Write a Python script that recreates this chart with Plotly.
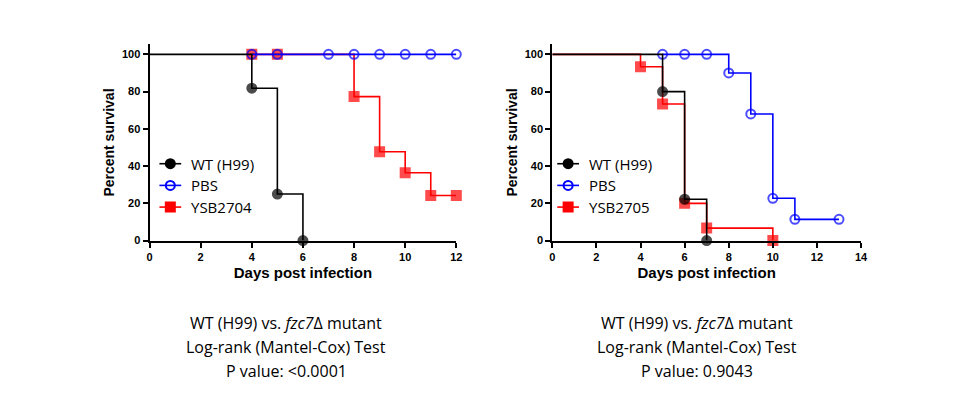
import plotly.graph_objects as go

# Left panel data
L_wt_x = [0, 4, 5, 6]; L_wt_y = [100, 81.8, 25, 0]
L_pbs_x = [4, 5, 7, 8, 9, 10, 11, 12]; L_pbs_y = [100]*8
L_ysb_x = [4, 5, 8, 9, 10, 11, 12]; L_ysb_y = [100, 100, 77.3, 47.7, 36.4, 24.2, 24.2]
# Right panel data
R_wt_x = [0, 5, 6, 7]; R_wt_y = [100, 80, 22.2, 0]
R_pbs_x = [5, 6, 7, 8, 9, 10, 11, 13]; R_pbs_y = [100, 100, 100, 90, 68, 22.7, 11.4, 11.4]
R_ysb_x = [0, 4, 5, 6, 7, 10]; R_ysb_y = [100, 93.3, 73.3, 20, 6.7, 0]

fig = go.Figure()

def add(x, y, color, sym, name, xa, ya, first_hidden):
    sizes = [9]*len(x)
    if first_hidden:
        sizes[0] = 0
    fig.add_trace(go.Scatter(x=x, y=y, mode="lines+markers", line_shape="hv", name=name,
                             line=dict(color=color, width=1.6),
                             marker=dict(symbol=sym, size=sizes, color=color,
                                         line=dict(color=color, width=2)),
                             xaxis=xa, yaxis=ya, showlegend=False, cliponaxis=False))

for (xa, ya, data, lab) in [("x", "y", [(L_ysb_x, L_ysb_y, False), (L_pbs_x, L_pbs_y, False), (L_wt_x, L_wt_y, True)], "YSB2704"),
                            ("x2", "y2", [(R_ysb_x, R_ysb_y, True), (R_pbs_x, R_pbs_y, False), (R_wt_x, R_wt_y, True)], "YSB2705")]:
    (rx, ry, rh), (px, py, ph), (wx, wy, wh) = data
    add(rx, ry, "#ff0000", "square", lab, xa, ya, rh)
    add(px, py, "#0000ff", "circle-open", "PBS", xa, ya, ph)
    add(wx, wy, "#000000", "circle", "WT (H99)", xa, ya, wh)

axfont = dict(family="Liberation Sans, Arial", size=11, color="black")
common_x = dict(showline=True, linecolor="black", linewidth=2, ticks="outside", ticklen=5,
                tickwidth=2, tickcolor="black", showgrid=False, zeroline=False,
                tickfont=axfont,
                title=dict(text="<b>Days post infection</b>", font=dict(family="Liberation Sans, Arial", size=15, color="black"), standoff=6))
common_y = dict(showline=True, linecolor="black", linewidth=2, ticks="outside", ticklen=5,
                tickwidth=2, tickcolor="black", showgrid=False, zeroline=False,
                tickfont=axfont, range=[0, 105.3], tickvals=[0, 20, 40, 60, 80, 100],
                ticktext=["<b>%d</b>" % v for v in [0, 20, 40, 60, 80, 100]],
                title=dict(text="<b>Percent survival</b>", font=dict(family="Liberation Sans, Arial", size=14, color="black"), standoff=4))

yd = [1 - 236/415, 1 - 37/415]
fig.update_layout(
    width=960, height=415, margin=dict(l=0, r=0, t=0, b=0),
    paper_bgcolor="white", plot_bgcolor="rgba(0,0,0,0)", showlegend=False,
    xaxis=dict(common_x, domain=[140/960, 450/960], range=[0, 12], anchor="y",
               tickvals=list(range(0, 13, 2)), ticktext=["<b>%d</b>" % v for v in range(0, 13, 2)]),
    yaxis=dict(common_y, domain=yd, anchor="x"),
    xaxis2=dict(common_x, domain=[547/960, 859/960], range=[0, 14], anchor="y2",
                tickvals=list(range(0, 15, 2)), ticktext=["<b>%d</b>" % v for v in range(0, 15, 2)]),
    yaxis2=dict(common_y, domain=yd, anchor="x2"),
)

leg_items = [("WT (H99)", "#000000", "circle"), ("PBS", "#0000ff", "circle-open"), ("YSB", "#ff0000", "square")]
for lx, lab3 in [(150, "YSB2704"), (552, "YSB2705")]:
    for i, (lab, col, sym) in enumerate(leg_items):
        if lab == "YSB":
            lab = lab3
        ypx = 158 + i * 22
        yp = 1 - ypx / 415
        fig.add_shape(type="line", xref="paper", yref="paper", x0=(lx)/960, x1=(lx+22)/960, y0=yp, y1=yp,
                      line=dict(color=col, width=1.6))
        fig.add_trace(go.Scatter(x=[(lx+11)/960], y=[yp], mode="markers", xaxis="x3", yaxis="y3",
                                 marker=dict(symbol=sym, size=9, color=col, line=dict(color=col, width=2)),
                                 showlegend=False, hoverinfo="skip"))
        fig.add_annotation(x=(lx+30)/960, y=yp, xref="paper", yref="paper", text=lab, showarrow=False,
                           xanchor="left", yanchor="middle",
                           font=dict(family="Open Sans, Noto Sans", size=15, color="black"))
fig.update_layout(xaxis3=dict(domain=[0, 1], range=[0, 1], visible=False, anchor="y3"),
                  yaxis3=dict(domain=[0, 1], range=[0, 1], visible=False, anchor="x3"))

for cx, p in [(278, "&lt;0.0001"), (693, "0.9043")]:
    for j, t in enumerate(["WT (H99) vs. <i>fzc7</i>Δ mutant", "Log-rank (Mantel-Cox) Test", "P value: " + p]):
        fig.add_annotation(x=cx/960, y=1 - (320 + j*24)/415, xref="paper", yref="paper", text=t,
                           showarrow=False, xanchor="center", yanchor="middle",
                           font=dict(family="Open Sans, Noto Sans", size=16, color="black"))

fig.write_html("out.html")
